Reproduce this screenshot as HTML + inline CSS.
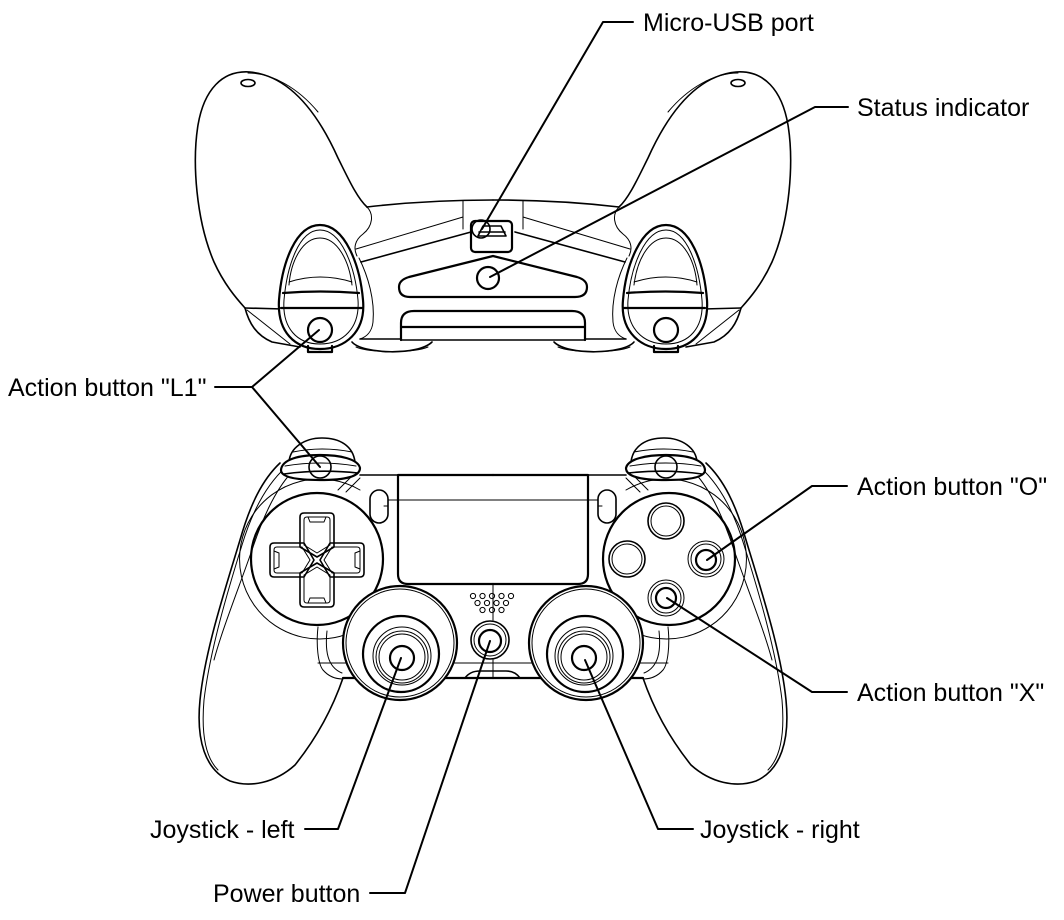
<!DOCTYPE html>
<html><head><meta charset="utf-8">
<style>
html,body{margin:0;padding:0;background:#fff;}
svg{display:block;}
.k{fill:none;stroke:#000;stroke-linejoin:round;stroke-linecap:round;}
.k .t,.t{stroke-width:1;}
.k .m,.m{stroke-width:1.6;}
.k .b,.b{stroke-width:2.2;}
.w{fill:#fff;}
text{font-family:"Liberation Sans",Arial,sans-serif;font-size:25px;fill:#000;}
</style></head>
<body>
<svg width="1064" height="920" viewBox="0 0 1064 920" xmlns="http://www.w3.org/2000/svg">
<defs>
<g id="th" class="k">
  <path class="m" d="M367 207 C357 198 348 178 338 158 C320 118 292 76 250 72 C222 70 204 90 198 125 C192 162 196 220 214 262 C224 284 236 298 245 308"/>
  <path class="t" d="M248 73 C272 73 298 88 318 112"/>
  <ellipse class="m" cx="248" cy="83" rx="7" ry="3.5"/>
  <path class="m" d="M245 308 L283 309"/>
  <path class="m" d="M245 308 C249 323 256 335 272 342 L300 347"/>
  <path class="t" d="M247 310 L290 344"/>
  <path class="m" d="M367 207 C410 202 450 200 493 200"/>
  <path class="t" d="M367 207 C374 214 373 226 363 234 C355 240 353 248 357 256"/>
  <path class="t" d="M359 258 C368 276 375 300 373 322 C372 332 366 337 360 339"/>
  <path class="m" d="M361 262 L471 232"/>
  <path class="t" d="M356 249 L463 217"/>
  <path class="t" d="M463 201 L463 229"/>
  <path class="b w" d="M320 225 C345 225 360 265 363 300 C366 332 345 349 320 349 C295 349 277 332 279 300 C282 262 296 225 320 225 Z"/>
  <path class="t" d="M320 230 C341 230 355 266 358 300 C360 328 343 344 320 344 C297 344 282 328 284 300 C287 266 299 230 320 230 Z"/>
  <path class="t" d="M289 285 C291 260 303 238 320 238 C337 238 349 260 352 285"/>
  <path class="t" d="M289 282 Q320 272 352 282"/>
  <path class="b" d="M283 293 Q320 290 359 293"/>
  <path class="b" d="M281 308 L362 308"/>
  <circle class="b" cx="320" cy="330" r="12"/>
  <path class="b" d="M308 346 L308 352 L332 352 L332 346"/>
  <path class="m" d="M360 339 L401 339"/>
  <path class="m" d="M352 342 C362 354 418 356 432 342"/>
  <path class="t" d="M356 347 C370 353 414 353 428 347"/>
</g>
<g id="bh" class="k">
  <path class="m" d="M280 463 C262 480 250 505 240 540 C225 590 205 650 200 700 C196 740 205 770 230 781 C250 788 275 783 295 765 C315 740 332 710 343 678"/>
  <path class="t" d="M286 467 C266 485 252 512 242 545 C228 590 210 650 204 700 C201 735 206 758 218 770"/>
  <path class="t" d="M291 473 C274 492 262 520 252 550 C238 590 222 630 214 660"/>
  <path class="m" d="M360 475 L398 475"/>
  <path class="t" d="M338 490 L352 476 M346 492 L360 478"/>
  <path class="t" d="M360 490 A80 80 0 1 0 385 605"/>
  <circle class="b" cx="317" cy="559" r="66"/>
  <rect class="m" x="370" y="490" width="18" height="33" rx="9"/>
  <path class="t" d="M384 506 L388 506"/>
  <path class="b" d="M493 475 L398 475 L398 574 Q398 584 408 584 L493 584"/>
  <path class="t" d="M388 500 L493 500"/>
  <path class="t" d="M318 627 C316 645 318 664 323 670 C329 677 336 679 343 679"/>
  <path class="t" d="M327 631 C325 650 327 667 342 673"/>
  <path class="t" d="M318 663 L493 663"/>
  <path class="b" d="M343 678 L493 678"/>
  <circle class="b w" cx="400" cy="643" r="57"/>
  <circle class="t" cx="400" cy="643" r="54"/>
  <circle class="b w" cx="401" cy="654" r="38"/>
  <circle class="t" cx="402" cy="656" r="29"/>
  <circle class="t" cx="402" cy="657" r="26"/>
  <circle class="t" cx="402" cy="657" r="23"/>
  <circle class="b" cx="402" cy="658" r="12"/>
  <path class="m w" d="M289 462 C290 448 304 438 322 438 C340 438 353 446 355 462"/>
  <path class="t" d="M293 452 Q322 446 352 452"/>
  <path class="b w" d="M281 470 C282 459 300 455 320 455 C340 455 358 459 360 468 C360 478 340 480 320 480 C300 480 281 478 281 470 Z"/>
  <path class="t" d="M285 466 Q320 460 356 466"/>
  <path class="m" d="M284 474 Q320 469 358 473"/>
  <circle class="m" cx="320" cy="467" r="11"/>
</g>
<g id="arm">
  <path class="m" d="M-17 -13 L-17 -43 Q-17 -47 -13 -47 L13 -47 Q17 -47 17 -43 L17 -13 L0 -3 Z"/>
  <path class="t" d="M-13 -15 L-13 -40 Q-13 -43 -10 -43 L10 -43 Q13 -43 13 -40 L13 -15 L0 -7 Z"/>
  <path class="t" d="M-9 -43 L-7 -38 L7 -38 L9 -43"/>
</g>
</defs>

<!-- top (rear) view -->
<use href="#th"/>
<use href="#th" transform="matrix(-1 0 0 1 986 0)"/>
<g class="k">
  <rect class="b w" x="471" y="221" width="41" height="31" rx="4"/>
  <path class="m" d="M478 236 L483 226 L501 226 L506 236 Z"/>
  <path class="m" d="M479 232 L505 232"/>
  <circle class="m" cx="481" cy="229" r="9"/>
  <path class="b" d="M410 297 L575 297 Q587 297 587 287 Q587 280 577 277 L493 256 L409 277 Q399 280 399 287 Q399 297 410 297 Z"/>
  <circle class="b" cx="488" cy="278" r="11"/>
  <path class="b" d="M401 340 L401 323 Q401 311 414 311 L572 311 Q585 311 585 323 L585 340"/>
  <path class="b" d="M401 327 L585 327"/>
  <path class="m" d="M401 340 L585 340"/>
</g>

<!-- bottom (front) view -->
<use href="#bh"/>
<use href="#bh" transform="matrix(-1 0 0 1 986 0)"/>
<g class="k">
  <g transform="translate(317 560)">
    <use href="#arm"/>
    <use href="#arm" transform="rotate(90)"/>
    <use href="#arm" transform="rotate(180)"/>
    <use href="#arm" transform="rotate(270)"/>
  </g>
  <circle class="m" cx="666" cy="521" r="18"/><circle class="t" cx="666" cy="521" r="15"/>
  <circle class="m" cx="627" cy="559" r="18"/><circle class="t" cx="627" cy="559" r="15"/>
  <circle class="t" cx="706" cy="559" r="18"/><circle class="t" cx="706" cy="559" r="15"/><circle class="b" cx="706" cy="560" r="10"/>
  <circle class="t" cx="666" cy="598" r="18"/><circle class="t" cx="666" cy="598" r="15"/><circle class="b" cx="666" cy="598" r="10"/>
  <path class="t" d="M493 584 L493 620 M493 660 L493 678"/>
  <circle class="m w" cx="490" cy="640" r="19"/>
  <circle class="t" cx="490" cy="640" r="16"/>
  <circle class="b" cx="490" cy="641" r="11"/>
  <path class="m" d="M465 678 Q470 671 480 671 L506 671 Q515 671 520 678"/>
  <g class="t">
    <circle cx="473" cy="596" r="2.6"/><circle cx="482.5" cy="596" r="2.6"/><circle cx="492" cy="596" r="2.6"/><circle cx="501.5" cy="596" r="2.6"/><circle cx="511" cy="596" r="2.6"/>
    <circle cx="477.5" cy="603" r="2.6"/><circle cx="487" cy="603" r="2.6"/><circle cx="496.5" cy="603" r="2.6"/><circle cx="506" cy="603" r="2.6"/>
    <circle cx="482.5" cy="610" r="2.6"/><circle cx="492" cy="610" r="2.6"/><circle cx="501.5" cy="610" r="2.6"/>
  </g>
</g>

<!-- leaders -->
<g class="k" style="stroke-width:2">
  <path d="M633 22 L603 22 L482 229"/>
  <path d="M848 107 L815 107 L490 277"/>
  <path d="M215 387 L252 387 L319 330 M252 387 L320 467"/>
  <path d="M847 486 L812 486 L707 560"/>
  <path d="M847 692 L812 692 L667 598"/>
  <path d="M305 829 L338 829 L401 658"/>
  <path d="M693 829 L658 829 L585 660"/>
  <path d="M370 893 L405 893 L490 641"/>
</g>

<!-- labels -->
<text x="643" y="31">Micro-USB port</text>
<text x="857" y="116">Status indicator</text>
<text x="8" y="396">Action button "L1"</text>
<text x="857" y="495">Action button "O"</text>
<text x="857" y="701">Action button "X"</text>
<text x="150" y="838">Joystick - left</text>
<text x="700" y="838">Joystick - right</text>
<text x="213" y="902">Power button</text>
</svg>
</body></html>
